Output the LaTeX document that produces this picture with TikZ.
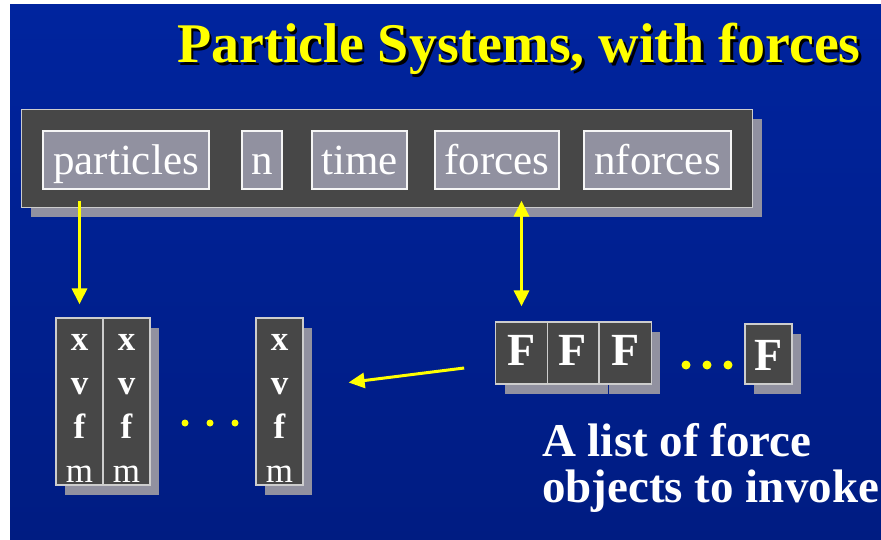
\documentclass[tikz,border=0pt]{standalone}
\usepackage{fontspec}
\setmainfont{Liberation Serif}
\usetikzlibrary{arrows.meta, shadows, positioning, calc}
\definecolor{bgtop}{RGB}{0,36,158}
\definecolor{bgbot}{RGB}{0,28,130}
\definecolor{cellgray}{RGB}{71,71,71}
\definecolor{fieldgray}{RGB}{145,145,160}
\definecolor{rimgray}{RGB}{205,205,205}
\definecolor{ptyellow}{RGB}{255,255,0}
\newcommand{\pslots}{\rule{0pt}{30pt}\textbf{x}\\\textbf{v}\\\textbf{f}\\m}
\tikzset{
  grayshadow/.style={
    drop shadow={shadow xshift=9pt, shadow yshift=-10pt,
                 fill=fieldgray, opacity=1}
  },
  structbox/.style={
    rectangle, draw=rimgray, line width=1.2pt, fill=cellgray,
    minimum width=731pt, minimum height=98pt, grayshadow
  },
  fieldbox/.style={
    rectangle, draw=white!92!gray, line width=1.2pt, fill=fieldgray,
    text=white, inner sep=0pt, minimum height=58pt,
    text height=30pt, text depth=0pt,
    font=\fontsize{43}{44}\selectfont
  },
  pcell/.style={
    rectangle, draw=rimgray, line width=1.2pt, fill=cellgray,
    text=white, inner sep=0pt, align=center,
    minimum width=47pt, minimum height=167pt,
    font=\fontsize{35}{44}\selectfont, grayshadow
  },
  fcell/.style={
    rectangle, draw=rimgray, line width=1.2pt, fill=cellgray,
    text=white, inner sep=0pt, text height=24pt, text depth=0pt,
    minimum width=#1, minimum height=62pt,
    font=\bfseries\fontsize{46}{46}\selectfont, grayshadow
  },
  titletext/.style={
    anchor=base, inner sep=0pt, text=ptyellow,
    font=\bfseries\fontsize{56}{60}\selectfont
  },
  ylink/.style={
    draw=ptyellow, line width=3pt,
    -{Triangle[length=16pt,width=15pt]}
  },
}

\begin{document}
\begin{tikzpicture}[x=1pt,y=-1pt]
      \useasboundingbox (0,0) rectangle (881,540);
      \fill[white] (0,0) rectangle (881,540);
      \shade[top color=bgtop, bottom color=bgbot] (10,5) rectangle (881,540);
      % title
      \node[titletext, text=black](titleshade)at(521.5,65.5){Particle Systems, with forces};
      \node[titletext](title)at(519,63){Particle Systems, with forces};
      % system struct
      \node[structbox](system)at(387,158.5){};
      \node[fieldbox, minimum width=166pt](particles)at(126,160)  {particles};
      \node[fieldbox, minimum width=40pt] (n)        at(262,160)  {n};
      \node[fieldbox, minimum width=95pt] (time)     at(359.5,160){time};
      \node[fieldbox, minimum width=124pt](forces)   at(497,160)  {forces};
      \node[fieldbox, minimum width=147pt](nforces)  at(657.5,160){nforces};
      % particles
      \node[pcell](col1)at(79.5,401.5) {\pslots};
      \node[pcell](col2)at(126.5,401.5){\pslots};
      \node[pcell](col3)at(279.5,401.5){\pslots};
      \foreach \dx in {185,210,235}
        \fill[ptyellow](\dx,423)circle(3.5pt);
      % forces
      \node[fcell=51.5pt](f1)at(521.5,353){F};
      \node[fcell=51.5pt](f2)at(573,353)  {F};
      \node[fcell=51.5pt](f3)at(625.5,353){F};
      \node[fcell=47pt, minimum height=60pt, text height=32pt](fn)at(768.5,354){F};
      \foreach \dx in {686,707,728}
        \fill[ptyellow](\dx,365)circle(4.5pt);
      \node[anchor=north west, align=left, inner sep=0pt, text=white,
            font=\bfseries\fontsize{47}{46}\selectfont](note)at(542,423)
            {A list of force\\objects to invoke};
      % links
      \draw[ylink, shorten <=11pt, shorten >=13pt](particles.south -| col1)--(col1.north);
      \draw[ylink, {Triangle[length=16pt,width=15pt]}-{Triangle[length=16pt,width=15pt]},
            shorten <=11pt, shorten >=15pt](forces.south -| f1)--(f1.north);
      \draw[ylink]([shift={(-31,15)}]f1.west)--([shift={(45,-19)}]col3.east);
    \end{tikzpicture}
\end{document}
